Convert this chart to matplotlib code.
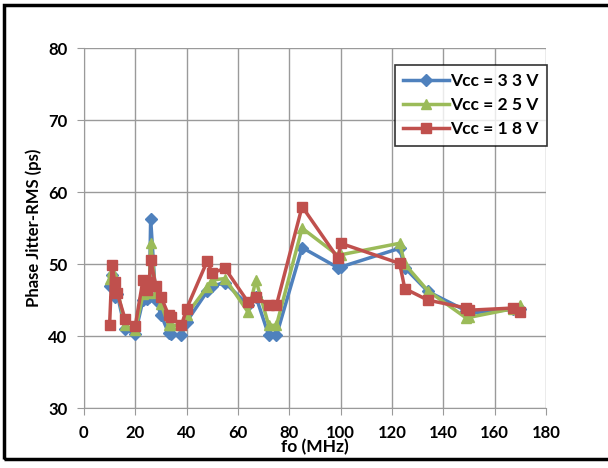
import matplotlib.pyplot as plt
from matplotlib.patches import Rectangle

# output frequency (MHz)
freq = [10, 11, 12, 13, 16, 20, 23, 24.5, 25.5, 26, 28, 30, 33, 34, 38, 40,
        48, 50, 55, 64, 67, 72, 75, 85, 99, 100, 123, 125, 134, 149, 150, 167, 170]

# phase jitter RMS (ps) per supply voltage
jit_33 = [47.0, 48.5, 45.5, 45.8, 41.0, 40.3, 45.0, 45.2, 45.5, 56.3, 45.0, 43.0, 40.4, 40.3, 40.1, 42.0,
          46.2, 47.0, 47.4, 44.3, 45.5, 40.1, 40.1, 52.3, 49.5, 49.6, 52.2, 49.5, 46.2, 43.5, 43.2, 43.7, 43.8]
jit_25 = [48.0, 49.0, 46.5, 46.5, 41.5, 40.8, 45.8, 46.0, 46.2, 53.0, 46.0, 44.5, 41.5, 41.5, 41.5, 43.0,
          46.8, 47.8, 48.0, 43.3, 47.8, 41.5, 41.5, 55.0, 51.2, 51.3, 52.9, 50.0, 46.3, 42.5, 42.6, 43.8, 44.3]
jit_18 = [41.5, 49.9, 47.5, 46.0, 42.4, 41.4, 47.8, 46.4, 47.5, 50.6, 47.0, 45.5, 42.9, 42.6, 41.5, 43.8,
          50.4, 48.8, 49.4, 44.7, 45.5, 44.3, 44.3, 58.0, 50.8, 52.9, 50.1, 46.6, 45.0, 43.9, 43.6, 43.9, 43.4]

plt.rcParams['font.family'] = ['Lato', 'DejaVu Sans']
plt.rcParams['font.weight'] = 'bold'

fig = plt.figure(figsize=(6.08, 4.68), dpi=100)
ax = fig.add_axes([0.138, 0.128, 0.760, 0.769])

# outer border of the chart area
fig.patches.append(Rectangle((4 / 608, 9 / 468), 1.2, 454 / 468, transform=fig.transFigure,
                             fill=False, edgecolor='black', linewidth=2.5))

ax.plot(freq, jit_33, color='#4F81BD', marker='D', markersize=6, linewidth=2.5, label='Vcc = 3 3 V')
ax.plot(freq, jit_25, color='#9BBB59', marker='^', markersize=7.5, linewidth=2.5, label='Vcc = 2 5 V')
ax.plot(freq, jit_18, color='#C0504D', marker='s', markersize=7.5, linewidth=2.5, label='Vcc = 1 8 V')

ax.set_xlim(0, 180)
ax.set_ylim(30, 80)
ax.set_xticks(range(0, 181, 20))
ax.set_yticks(range(30, 81, 10))
ax.grid(True, color='#9a9a9a', linewidth=1)
ax.set_axisbelow(True)
for side in ['top', 'right']:
    ax.spines[side].set_visible(False)
for side in ['left', 'bottom']:
    ax.spines[side].set_color('#9a9a9a')
ax.tick_params(colors='#9a9a9a', length=5, labelcolor='black', labelsize=12, pad=7)

ax.set_xlabel('fo (MHz)', fontsize=12.5, fontweight='bold', labelpad=-1)
ax.set_ylabel('Phase Jitter-RMS (ps)', fontsize=12, fontweight='bold', labelpad=4)

leg = ax.legend(loc='upper right', bbox_to_anchor=(1.022, 0.978), fontsize=12.5, frameon=True,
                fancybox=False, handlelength=2.6, handletextpad=0.1, borderpad=0.5,
                labelspacing=0.45)
leg.get_frame().set_edgecolor('black')
leg.get_frame().set_linewidth(1.2)

fig.savefig('out.png', dpi=100)
